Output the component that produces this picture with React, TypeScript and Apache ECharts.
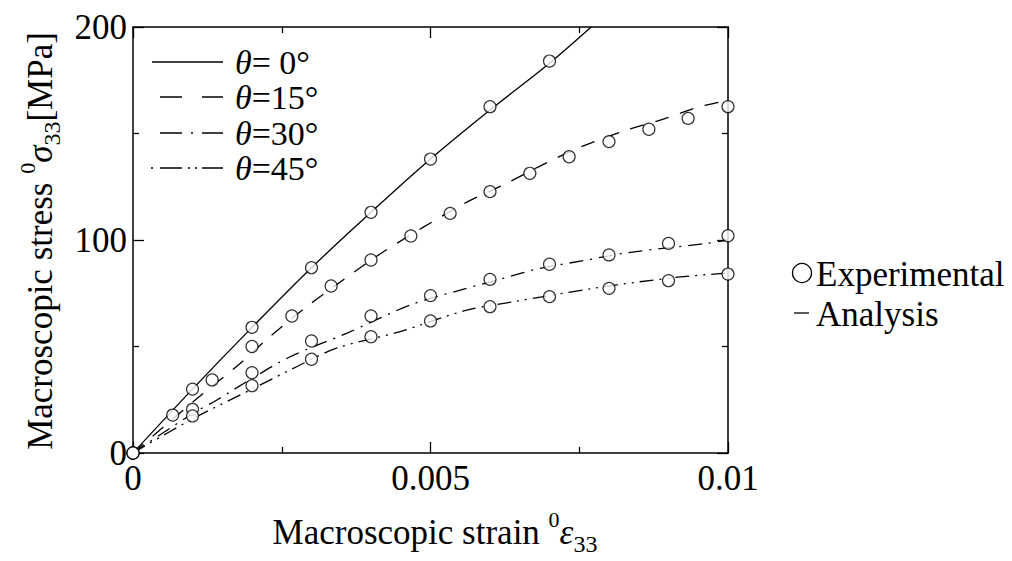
import React, { useEffect, useRef } from "react";
import * as echarts from "echarts";

const FONT = '"Liberation Serif", "Times New Roman", serif';

// Experimental points (strain, stress MPa)
const expStrain0 = [0, 0.001, 0.002, 0.003, 0.004, 0.005, 0.006, 0.007];
const expStress0 = [0, 30, 59, 87, 113, 138, 162.6, 184];
const expStrain15 = [0, 0.000667, 0.00133, 0.002, 0.00267, 0.00333, 0.004, 0.00467, 0.00533, 0.006, 0.00667, 0.00733, 0.008, 0.00867, 0.00933, 0.01];
const expStress15 = [0, 17.8, 34.3, 50, 64.3, 78.4, 90.6, 101.9, 112.5, 122.7, 131.3, 139.1, 146.2, 152, 157.1, 162.6];
const expStrain30 = [0, 0.001, 0.002, 0.003, 0.004, 0.005, 0.006, 0.007, 0.008, 0.009, 0.01];
const expStress30 = [0, 20.5, 37.7, 52.6, 64.3, 73.9, 81.5, 88.6, 93, 98.4, 102];
const expStrain45 = [0, 0.001, 0.002, 0.003, 0.004, 0.005, 0.006, 0.007, 0.008, 0.009, 0.01];
const expStress45 = [0, 17.4, 31.6, 44, 54.6, 62, 68.7, 73.4, 77.3, 80.9, 84];

// Analysis curves
const anStrain0 = [0, 0.001, 0.002, 0.003, 0.004, 0.005, 0.006, 0.007, 0.0077];
const anStress0 = [0, 30, 59, 87, 113, 138, 161, 183, 200];
const anStrain15 = [0, 0.00118, 0.00177, 0.0023, 0.00292, 0.00353, 0.00421, 0.00555, 0.00622, 0.00684, 0.00751, 0.00829, 0.00886, 0.00953, 0.01];
const anStress15 = [0, 28, 41.3, 54.6, 68.7, 81.2, 94.5, 116.9, 125.8, 134.7, 143.5, 151.6, 156.3, 162.6, 165.5];
const anStrain30 = [0, 0.001, 0.00141, 0.002, 0.00264, 0.00359, 0.00466, 0.0055, 0.00622, 0.00684, 0.00757, 0.0083, 0.00964, 0.01];
const anStress30 = [0, 18.5, 24.9, 35, 45.2, 56.2, 69.5, 76.5, 82, 86.7, 90.3, 94, 98.4, 100];
const anStrain45 = [0, 0.001, 0.002, 0.00275, 0.00342, 0.00449, 0.00561, 0.00639, 0.00774, 0.00852, 0.00925, 0.01];
const anStress45 = [0, 16, 30, 40.5, 49.2, 57, 67.1, 71, 77.3, 80.4, 82.8, 84.5];

const legendLabels = ["= 0°", "=15°", "=30°", "=45°"];
const dashes: (string | number[])[] = ["solid", [14, 12], [14, 7, 2, 7], [14, 6, 2, 6, 2, 6]];

const zip = (xs: number[], ys: number[]) => xs.map((x, i) => [x, ys[i]]);

export default function App() {
  const ref = useRef<HTMLDivElement>(null);
  useEffect(() => {
    if (!ref.current) return;
    const chart = echarts.init(ref.current, null, { renderer: "svg" });
    const axisCommon = {
      type: "value" as const,
      axisLine: { show: true, onZero: false, lineStyle: { color: "#000", width: 1.5 } },
      axisTick: { show: true, inside: true, length: 11, lineStyle: { color: "#000", width: 1.3 } },
      minorTick: { show: true, splitNumber: 2, length: 6, lineStyle: { color: "#000", width: 1.3 } },
      splitLine: { show: false },
    };
    const an = [zip(anStrain0, anStress0), zip(anStrain15, anStress15), zip(anStrain30, anStress30), zip(anStrain45, anStress45)];
    const ex = [zip(expStrain0, expStress0), zip(expStrain15, expStress15), zip(expStrain30, expStress30), zip(expStrain45, expStress45)];
    const series: any[] = [];
    an.forEach((d, i) => {
      series.push({
        type: "line",
        data: d,
        showSymbol: false,
        symbol: "none",
        smooth: 0.3,
        lineStyle: { color: "#000", width: 1.3, type: dashes[i] },
        z: 2,
      });
    });
    ex.forEach((d) => {
      series.push({
        type: "scatter",
        data: d,
        symbol: "circle",
        symbolSize: 12,
        clip: false,
        itemStyle: { color: "#fff", borderColor: "#000", borderWidth: 1.2 },
        z: 3,
      });
    });

    const FS = 35;
    const richBase = {
      r: { fontFamily: FONT, fontSize: FS, fill: "#000", lineHeight: 48 },
      sup: { fontFamily: FONT, fontSize: 22, fill: "#000", verticalAlign: "top", lineHeight: 48 },
      i: { fontFamily: FONT, fontStyle: "italic", fontSize: FS, fill: "#000", lineHeight: 48 },
      sub: { fontFamily: FONT, fontSize: 24, fill: "#000", verticalAlign: "bottom", lineHeight: 42 },
    };

    const graphic: any[] = [];
    const rows = [62, 97, 133, 168];
    const pieces: number[][][] = [
      [[152, 223]],
      [[160, 182], [202, 223]],
      [[160, 182], [191, 193], [202, 223]],
      [[151, 153], [160, 182], [188, 190], [195, 197], [202, 223]],
    ];
    rows.forEach((y, i) => {
      pieces[i].forEach(([a, b]) => {
        graphic.push({ type: "line", shape: { x1: a, y1: y, x2: b, y2: y }, style: { stroke: "#000", lineWidth: 1.5 } });
      });
      graphic.push({
        type: "text",
        x: 235,
        y,
        style: {
          text: `{i|θ}{r|${legendLabels[i]}}`,
          verticalAlign: "middle",
          rich: {
            i: { fontFamily: FONT, fontStyle: "italic", fontSize: 34, fill: "#000", lineHeight: 32 },
            r: { fontFamily: FONT, fontSize: 34, fill: "#000", lineHeight: 32 },
          },
        },
      });
    });
    // right legend
    graphic.push({ type: "circle", shape: { cx: 802, cy: 273, r: 9.5 }, style: { fill: "#fff", stroke: "#000", lineWidth: 1.3 } });
    graphic.push({ type: "text", x: 816, y: 274, style: { text: "Experimental", fontFamily: FONT, fontSize: FS, fill: "#000", verticalAlign: "middle" } });
    graphic.push({ type: "line", shape: { x1: 794, y1: 313, x2: 809, y2: 313 }, style: { stroke: "#000", lineWidth: 1.3 } });
    graphic.push({ type: "text", x: 816, y: 314, style: { text: "Analysis", fontFamily: FONT, fontSize: FS, fill: "#000", verticalAlign: "middle" } });
    // axis titles
    graphic.push({
      type: "text",
      x: 435,
      y: 532,
      style: {
        text: "{r|Macroscopic strain }{sup|0}{i|ε}{sub|33}",
        align: "center",
        verticalAlign: "middle",
        rich: richBase,
      },
    });
    graphic.push({
      type: "text",
      x: 40,
      y: 241,
      rotation: Math.PI / 2,
      style: {
        text: "{r|Macroscopic stress }{sup|0}{i|σ}{sub|33}{r|[MPa]}",
        align: "center",
        verticalAlign: "middle",
        rich: richBase,
      },
    });

    chart.setOption({
      animation: false,
      backgroundColor: "#fff",
      grid: { left: 133, top: 27, width: 595, height: 426 },
      xAxis: [
        {
          ...axisCommon,
          position: "bottom",
          min: 0,
          max: 0.01,
          interval: 0.005,
          axisLabel: {
            show: true,
            margin: 8,
            color: "#000",
            fontFamily: FONT,
            fontSize: FS,
            formatter: (v: number) => (v === 0 ? "0" : String(v)),
          },
        },
        {
          ...axisCommon,
          position: "top",
          min: 0,
          max: 0.01,
          interval: 0.005,
          axisLabel: { show: false },
        },
      ],
      yAxis: [
        {
          ...axisCommon,
          position: "left",
          min: 0,
          max: 200,
          interval: 100,
          axisLabel: { show: true, margin: 6, color: "#000", fontFamily: FONT, fontSize: FS },
        },
        {
          ...axisCommon,
          position: "right",
          min: 0,
          max: 200,
          interval: 100,
          axisLabel: { show: false },
        },
      ],
      series,
      graphic,
    });
    return () => chart.dispose();
  }, []);
  return <div ref={ref} style={{ position: "fixed", left: 0, top: 0, width: 1012, height: 561, background: "#fff" }} />;
}
